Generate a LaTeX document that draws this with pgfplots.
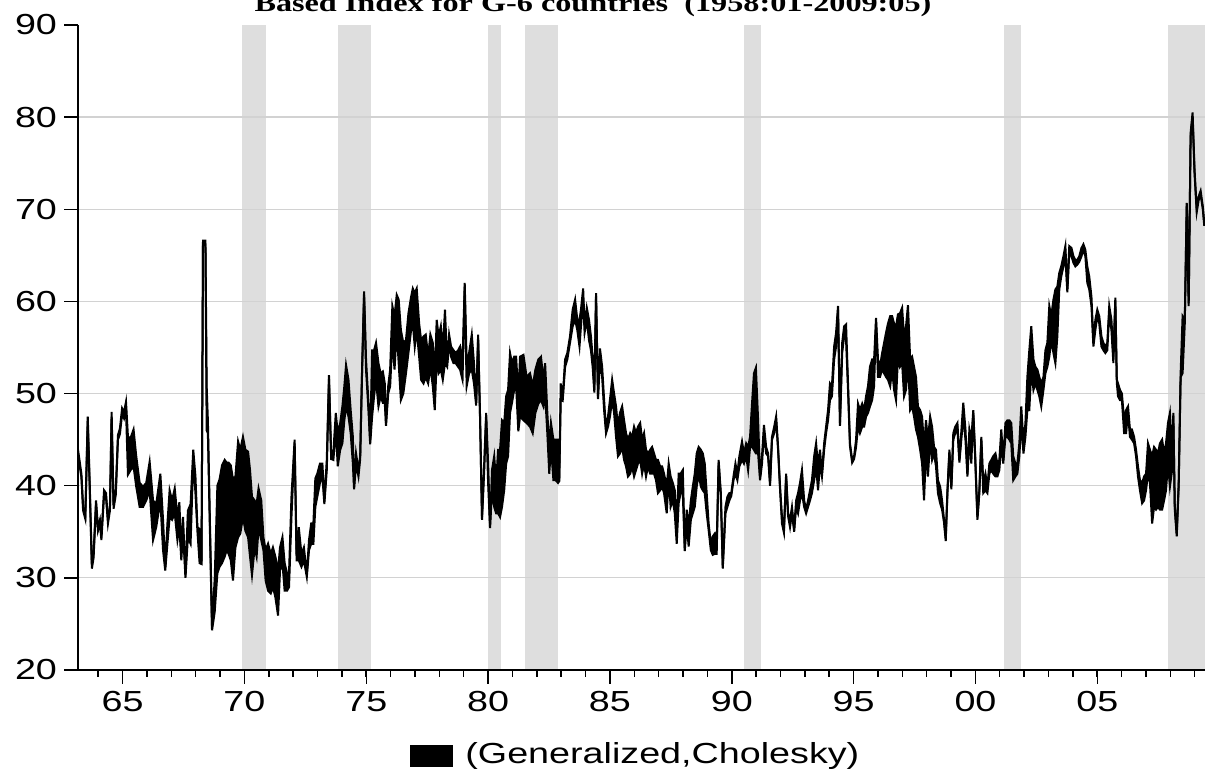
\documentclass[border=0pt]{standalone}
\usepackage{fontspec}
\setmainfont{Liberation Sans}[FakeStretch=1.3]
\newfontfamily\titlefont{Liberation Serif}[FakeStretch=1.3]
\usepackage{pgfplots}
\pgfplotsset{compat=1.18}
\usepgfplotslibrary{fillbetween}
\definecolor{recess}{HTML}{DEDEDE}
\definecolor{gridc}{HTML}{D2D2D2}

% monthly-ish readings: u = upper edge, l = lower edge of the band
\pgfplotstableread{
x u l
1963.17 43.9 43.4
1963.31 41.3 40.9
1963.38 37.7 37.3
1963.47 36.8 36.4
1963.57 47.5 47.0
1963.65 40.3 39.8
1963.74 31.4 31.0
1963.81 32.6 32.2
1963.91 38.4 38.0
1963.99 35.5 35.1
1964.07 36.3 35.9
1964.13 34.5 34.1
1964.24 39.5 39.0
1964.32 39.2 38.7
1964.40 36.3 35.9
1964.48 37.7 37.3
1964.55 48.0 47.5
1964.63 37.9 37.5
1964.72 39.5 39.0
1964.81 45.5 45.0
1964.89 46.2 45.6
1964.98 48.4 47.8
1965.06 48.0 47.3
1965.14 49.1 48.3
1965.22 45.3 41.2
1965.33 45.2 41.7
1965.45 46.1 42.1
1965.56 43.2 39.9
1965.70 40.3 37.7
1965.84 39.9 37.7
1965.97 40.3 38.4
1966.11 42.6 39.5
1966.25 38.4 34.1
1966.38 38.0 35.5
1966.55 41.3 38.4
1966.66 36.3 33.0
1966.75 31.2 30.8
1966.84 35.9 33.7
1966.93 39.5 36.6
1967.03 38.4 36.3
1967.14 39.7 37.0
1967.25 36.6 34.1
1967.33 38.2 35.5
1967.41 32.6 31.9
1967.48 36.6 35.1
1967.58 30.3 30.0
1967.68 37.3 34.4
1967.79 38.0 33.7
1967.90 43.9 42.8
1967.99 41.0 39.2
1968.07 35.5 35.1
1968.16 35.3 31.6
1968.24 31.8 31.5
1968.30 66.6 66.2
1968.40 66.6 66.2
1968.45 50.8 46.0
1968.50 47.1 45.7
1968.67 24.7 24.3
1968.78 29.9 26.3
1968.89 40.0 30.5
1968.98 40.7 31.2
1969.08 42.2 31.6
1969.19 42.8 32.3
1969.27 42.5 33.0
1969.35 42.5 32.6
1969.44 42.2 31.9
1969.53 40.7 29.7
1969.63 41.0 33.3
1969.74 44.8 34.4
1969.83 43.9 34.8
1969.94 45.3 36.6
1970.04 43.9 35.1
1970.15 43.7 34.4
1970.23 41.7 32.3
1970.31 38.8 30.3
1970.42 38.4 33.3
1970.50 38.0 32.3
1970.58 39.7 35.5
1970.69 38.4 34.1
1970.78 34.4 33.0
1970.87 33.0 29.7
1970.97 33.7 28.6
1971.08 32.6 28.3
1971.17 33.3 29.0
1971.27 32.3 27.9
1971.38 30.8 25.9
1971.46 33.3 30.8
1971.56 34.4 31.6
1971.65 31.6 28.6
1971.75 30.5 28.6
1971.83 30.5 29.0
1971.93 38.8 36.6
1972.06 45.0 44.6
1972.14 32.6 31.9
1972.23 35.5 31.9
1972.34 32.6 31.2
1972.44 33.3 31.9
1972.56 30.4 30.1
1972.65 34.1 33.0
1972.74 35.9 33.7
1972.83 35.9 33.7
1972.91 40.8 37.7
1972.99 41.3 38.8
1973.10 42.4 40.3
1973.20 42.4 41.0
1973.28 38.3 38.0
1973.38 42.8 41.7
1973.47 52.0 51.6
1973.56 43.2 42.9
1973.65 43.7 42.8
1973.75 47.9 46.1
1973.83 45.7 42.1
1973.93 46.8 43.9
1974.02 48.6 44.6
1974.10 50.8 47.1
1974.17 53.1 48.6
1974.27 51.5 47.5
1974.36 48.2 45.7
1974.45 45.3 42.4
1974.50 39.9 39.6
1974.58 43.5 42.4
1974.68 41.7 41.0
1974.75 43.2 42.9
1974.83 52.9 52.5
1974.91 61.1 60.7
1974.99 53.7 52.6
1975.09 49.0 48.2
1975.16 44.8 44.5
1975.24 54.7 47.5
1975.32 54.7 49.7
1975.40 55.5 51.5
1975.50 53.3 48.6
1975.59 52.2 49.7
1975.68 52.4 49.0
1975.76 51.1 49.0
1975.81 46.8 46.5
1975.90 50.8 50.0
1975.98 52.6 50.8
1976.07 59.5 55.8
1976.16 58.4 52.6
1976.25 60.7 56.9
1976.33 60.2 53.3
1976.42 56.9 49.3
1976.52 55.5 50.0
1976.63 55.8 52.2
1976.73 58.7 54.4
1976.84 60.5 56.9
1976.91 61.4 57.6
1976.99 60.9 55.1
1977.07 61.4 56.9
1977.17 57.6 54.0
1977.25 55.8 51.5
1977.35 56.2 51.1
1977.44 56.4 51.8
1977.54 54.0 51.1
1977.63 56.4 52.9
1977.73 55.5 50.8
1977.81 51.8 48.2
1977.89 58.0 53.7
1977.97 56.2 52.2
1978.06 57.3 52.6
1978.14 54.7 51.5
1978.23 59.1 53.3
1978.32 53.3 52.9
1978.40 56.4 55.5
1978.48 55.1 54.0
1978.58 54.7 53.3
1978.67 54.4 53.3
1978.77 54.7 52.9
1978.85 55.1 52.6
1978.95 53.3 51.5
1979.04 62.0 61.6
1979.12 53.3 50.8
1979.22 54.4 52.2
1979.33 56.4 52.6
1979.42 53.3 51.1
1979.51 49.0 48.7
1979.59 56.4 56.0
1979.67 47.5 47.2
1979.75 36.6 36.3
1979.84 42.4 41.7
1979.92 47.9 47.5
1980.00 42.4 40.3
1980.08 35.7 35.4
1980.16 41.7 39.5
1980.25 43.2 37.7
1980.33 40.3 37.0
1980.41 43.9 37.0
1980.49 43.9 36.6
1980.57 47.1 37.7
1980.66 46.8 39.5
1980.74 49.7 42.4
1980.82 50.4 43.2
1980.90 54.4 47.9
1980.98 53.3 49.0
1981.07 54.0 50.4
1981.15 54.0 50.8
1981.24 49.7 45.9
1981.31 54.0 47.5
1981.45 54.2 47.1
1981.58 51.8 46.8
1981.72 52.2 46.4
1981.83 50.8 45.7
1981.94 52.6 47.9
1982.06 53.7 48.9
1982.17 54.0 49.3
1982.27 51.5 48.6
1982.34 53.3 50.0
1982.43 47.9 45.7
1982.51 44.2 41.3
1982.58 46.8 44.2
1982.68 45.0 40.6
1982.77 45.0 40.6
1982.87 45.0 40.3
1982.92 40.8 40.5
1982.98 51.1 49.3
1983.06 49.5 49.2
1983.16 53.7 52.9
1983.25 54.4 53.7
1983.36 56.2 55.5
1983.47 59.1 57.3
1983.57 60.2 58.0
1983.66 58.0 56.9
1983.75 58.0 55.1
1983.81 59.1 57.3
1983.90 61.4 60.2
1983.96 57.3 56.6
1984.05 59.3 58.0
1984.14 58.0 55.8
1984.22 56.2 54.7
1984.29 54.0 52.9
1984.36 50.4 50.1
1984.43 60.9 60.6
1984.51 49.7 49.4
1984.59 54.9 53.7
1984.68 52.9 51.8
1984.76 49.3 48.2
1984.84 46.1 45.7
1984.92 47.5 46.4
1985.00 49.3 47.5
1985.09 51.5 49.3
1985.17 50.0 47.9
1985.25 48.6 45.3
1985.33 46.4 43.2
1985.41 47.9 43.5
1985.50 48.6 44.2
1985.58 47.1 42.8
1985.66 45.7 42.1
1985.74 45.0 41.0
1985.83 45.7 41.3
1985.91 45.3 42.1
1985.99 46.4 41.0
1986.07 45.7 41.7
1986.15 46.4 42.4
1986.24 46.8 42.8
1986.32 45.0 41.3
1986.40 45.7 42.4
1986.48 43.9 41.0
1986.56 43.5 42.1
1986.65 43.9 41.3
1986.73 44.2 41.3
1986.81 43.5 41.3
1986.89 42.8 40.6
1986.97 42.8 39.2
1987.06 42.1 39.5
1987.14 42.1 39.9
1987.22 41.3 39.2
1987.33 39.9 37.0
1987.41 42.4 41.0
1987.49 41.0 37.7
1987.58 40.3 38.4
1987.66 39.5 37.0
1987.74 35.5 33.7
1987.82 41.3 38.1
1987.90 41.3 39.2
1987.99 41.7 39.2
1988.07 33.2 32.9
1988.15 37.4 35.9
1988.23 35.5 33.4
1988.32 38.4 36.3
1988.40 39.9 37.0
1988.48 41.3 37.7
1988.56 43.5 39.9
1988.64 44.2 41.3
1988.73 43.9 39.9
1988.81 43.5 39.5
1988.89 42.4 39.2
1988.97 39.2 37.0
1989.05 35.9 35.2
1989.14 33.7 33.0
1989.22 34.5 32.5
1989.30 34.8 32.6
1989.38 33.4 32.6
1989.46 42.8 42.5
1989.55 39.2 38.9
1989.63 31.3 31.0
1989.74 37.7 37.0
1989.82 38.8 37.7
1989.90 39.2 38.4
1989.98 39.2 38.9
1990.07 41.0 40.6
1990.15 42.4 41.3
1990.23 41.3 40.6
1990.31 43.2 42.1
1990.42 44.8 42.8
1990.50 43.5 42.4
1990.59 44.6 43.2
1990.67 44.2 41.7
1990.75 45.3 44.2
1990.83 48.9 44.2
1990.91 52.2 43.9
1990.99 52.8 43.5
1991.08 47.1 43.5
1991.16 41.0 40.6
1991.24 43.2 42.4
1991.32 46.6 45.7
1991.41 44.2 43.5
1991.49 43.5 43.2
1991.57 40.3 40.0
1991.65 45.3 45.0
1991.74 46.4 45.7
1991.82 47.5 47.1
1991.90 44.2 43.9
1991.98 39.9 39.6
1992.06 36.6 35.9
1992.14 35.2 34.9
1992.23 41.3 41.0
1992.31 37.0 36.7
1992.39 36.3 35.5
1992.47 37.7 37.0
1992.56 35.3 35.0
1992.64 38.4 37.7
1992.72 39.2 37.0
1992.80 40.3 38.4
1992.88 41.7 39.2
1992.97 38.4 37.7
1993.05 37.4 37.0
1993.13 38.4 37.7
1993.21 39.5 38.4
1993.29 40.6 39.2
1993.38 43.2 40.6
1993.46 44.6 42.1
1993.54 42.1 39.5
1993.62 43.9 42.4
1993.70 41.3 41.0
1993.79 44.6 43.9
1993.87 46.4 45.7
1993.95 48.2 47.1
1994.03 51.1 49.3
1994.11 50.8 49.7
1994.20 55.1 53.7
1994.28 56.6 55.1
1994.36 59.5 59.1
1994.44 46.8 46.5
1994.53 55.5 54.4
1994.61 57.3 56.2
1994.69 57.5 55.8
1994.77 51.1 50.4
1994.85 44.6 44.3
1994.94 42.8 42.5
1995.02 43.2 42.9
1995.10 45.0 44.2
1995.18 48.9 46.4
1995.26 48.2 45.7
1995.35 48.9 46.4
1995.43 48.2 46.4
1995.51 49.7 47.5
1995.59 50.8 47.9
1995.67 52.9 48.6
1995.76 53.7 49.3
1995.84 53.7 50.8
1995.92 58.2 57.8
1996.00 53.7 51.8
1996.08 52.9 51.8
1996.17 54.4 52.6
1996.25 55.5 52.2
1996.33 56.6 51.8
1996.41 57.6 51.5
1996.50 58.4 50.8
1996.58 58.4 52.6
1996.66 57.6 50.4
1996.74 57.3 49.3
1996.82 58.6 54.0
1996.90 58.7 52.9
1996.99 59.3 53.3
1997.07 56.2 49.7
1997.15 57.3 50.4
1997.23 59.6 53.7
1997.32 53.7 48.2
1997.40 54.0 48.6
1997.48 52.9 47.5
1997.56 51.8 46.1
1997.64 48.6 45.3
1997.73 48.2 43.9
1997.81 47.5 42.4
1997.89 44.2 38.4
1997.97 47.1 43.9
1998.05 45.0 41.0
1998.14 47.5 45.0
1998.22 46.4 42.8
1998.30 44.2 43.5
1998.38 43.9 42.1
1998.46 40.6 39.2
1998.55 39.9 38.1
1998.63 38.4 37.4
1998.71 36.3 36.0
1998.78 34.3 34.0
1998.85 39.5 39.2
1998.93 43.9 43.6
1999.01 39.9 39.6
1999.09 45.7 45.0
1999.17 46.4 45.7
1999.26 46.8 46.1
1999.34 42.8 42.5
1999.50 49.0 47.5
1999.59 46.1 45.0
1999.67 41.3 41.0
1999.75 46.1 45.3
1999.83 45.0 42.4
1999.91 48.2 47.9
1999.99 43.2 42.9
2000.08 36.6 36.3
2000.16 39.5 39.2
2000.24 45.3 45.0
2000.32 40.3 39.2
2000.41 41.3 39.5
2000.49 39.9 39.2
2000.57 42.4 41.3
2000.65 42.8 41.7
2000.73 43.2 41.3
2000.82 43.5 41.0
2000.90 42.4 41.0
2000.98 42.8 41.7
2001.06 46.1 44.6
2001.14 42.8 42.4
2001.23 46.8 45.3
2001.31 47.1 45.3
2001.39 47.1 45.0
2001.47 46.8 44.6
2001.55 43.2 40.6
2001.64 42.4 41.0
2001.72 42.4 41.3
2001.80 44.6 43.2
2001.88 48.6 46.8
2001.97 44.6 43.5
2002.05 46.8 45.3
2002.13 51.8 48.2
2002.21 54.7 48.2
2002.29 57.3 52.6
2002.38 53.7 50.4
2002.46 52.9 51.1
2002.54 52.6 50.4
2002.62 51.8 49.7
2002.70 51.1 48.6
2002.79 51.8 50.4
2002.87 54.7 52.2
2002.95 55.5 52.9
2003.03 59.5 54.0
2003.11 58.4 55.8
2003.20 60.2 54.4
2003.28 61.3 53.3
2003.36 61.6 56.2
2003.44 63.1 61.3
2003.52 63.8 62.7
2003.61 64.9 63.8
2003.69 66.0 64.9
2003.77 61.3 61.0
2003.85 66.0 65.3
2003.94 65.8 64.9
2004.02 64.9 64.2
2004.10 64.5 63.8
2004.18 64.5 64.0
2004.26 64.9 64.3
2004.35 65.8 64.9
2004.43 66.2 65.6
2004.51 65.6 64.9
2004.59 63.8 62.0
2004.67 62.7 61.3
2004.76 60.5 59.5
2004.84 55.5 55.1
2004.92 58.0 56.9
2005.00 59.1 58.4
2005.08 58.4 57.6
2005.17 56.2 55.1
2005.25 55.5 54.7
2005.33 55.1 54.4
2005.41 55.5 54.7
2005.49 59.5 58.7
2005.58 58.0 56.9
2005.66 54.0 53.3
2005.74 60.4 60.1
2005.80 51.5 51.2
2005.85 51.1 49.7
2005.93 50.4 49.3
2006.01 50.0 49.3
2006.10 47.1 45.7
2006.18 48.2 45.7
2006.26 48.6 47.9
2006.34 46.1 45.3
2006.42 46.1 45.0
2006.51 45.3 44.6
2006.59 43.9 43.2
2006.67 42.1 41.0
2006.75 40.6 39.5
2006.84 40.3 38.1
2006.92 41.0 38.4
2007.00 41.3 39.5
2007.08 44.6 41.3
2007.16 43.9 40.3
2007.25 43.2 35.9
2007.33 44.2 37.7
2007.41 43.9 37.4
2007.49 43.5 37.7
2007.57 44.6 37.4
2007.66 45.0 37.4
2007.74 43.5 38.4
2007.82 44.6 39.5
2007.90 46.8 42.4
2007.98 47.9 39.9
2008.07 43.2 41.7
2008.12 47.9 47.6
2008.18 37.7 37.4
2008.26 34.8 34.5
2008.34 40.3 40.0
2008.42 52.2 51.8
2008.50 58.4 52.2
2008.59 58.0 57.6
2008.67 70.7 70.3
2008.75 59.8 59.5
2008.83 78.3 77.9
2008.91 80.5 80.1
2008.99 74.3 73.9
2009.08 70.0 69.7
2009.16 71.4 71.0
2009.24 72.0 71.6
2009.33 70.3 70.0
2009.39 68.5 68.2
}\gsixdata

\begin{document}
\begin{tikzpicture}
\begin{axis}[
  set layers,
  scale only axis, width=563.5pt, height=322.5pt,
  xmin=1963.17, xmax=2009.42, ymin=20, ymax=90,
  axis x line*=bottom, axis y line*=left,
  axis line style={-, line width=1pt},
  tick align=outside,
  xtick={1965,1970,...,2005},
  xticklabels={65,70,75,80,85,90,95,00,05},
  minor xtick={1964,...,2009},
  ytick={20,30,...,90},
  extra y ticks={30,40,...,80},
  extra y tick labels={},
  extra y tick style={grid=major, major tick length=0pt},
  major grid style={gridc, line width=0.65pt},
  major tick length=7pt, minor tick length=3.5pt,
  tick style={black, line width=0.75pt},
  tick label style={font=\fontsize{14.5}{17}\selectfont},
  /pgf/number format/assume math mode=true,
]
% recession bands
\addplot[on layer=axis background, fill=recess, draw=none] coordinates {(1969.92,20) (1969.92,90) (1970.875,90) (1970.875,20)} -- cycle;
\addplot[on layer=axis background, fill=recess, draw=none] coordinates {(1973.83,20) (1973.83,90) (1975.21,90) (1975.21,20)} -- cycle;
\addplot[on layer=axis background, fill=recess, draw=none] coordinates {(1980.0,20) (1980.0,90) (1980.54,90) (1980.54,20)} -- cycle;
\addplot[on layer=axis background, fill=recess, draw=none] coordinates {(1981.5,20) (1981.5,90) (1982.875,90) (1982.875,20)} -- cycle;
\addplot[on layer=axis background, fill=recess, draw=none] coordinates {(1990.5,20) (1990.5,90) (1991.2,90) (1991.2,20)} -- cycle;
\addplot[on layer=axis background, fill=recess, draw=none] coordinates {(2001.17,20) (2001.17,90) (2001.875,90) (2001.875,20)} -- cycle;
\addplot[on layer=axis background, fill=recess, draw=none] coordinates {(2007.92,20) (2007.92,90) (2009.5,90) (2009.5,20)} -- cycle;

\addplot[name path=U, black, line width=1pt] table[x=x, y=u] {\gsixdata};
\addplot[name path=L, black, line width=1pt] table[x=x, y=l] {\gsixdata};
\addplot[black] fill between[of=U and L];

\coordinate (SW) at (rel axis cs:0,0);
\coordinate (NE) at (rel axis cs:1,1);
\end{axis}

\node[font=\titlefont\bfseries\fontsize{12.4}{14}\selectfont, anchor=base]
  at ([xshift=257.5pt, yshift=6.5pt]SW |- NE) {Based Index for G-6 countries\ \ (1958:01-2009:05)};

% legend
\fill[black] ([xshift=166pt, yshift=-37.5pt]SW) rectangle ([xshift=187.5pt, yshift=-48.5pt]SW);
\node[anchor=west, inner sep=0pt, font=\fontsize{14.5}{17}\selectfont]
  at ([xshift=193.5pt, yshift=-43pt]SW) {(Generalized,Cholesky)};

\pgfresetboundingbox
\path[use as bounding box] ([xshift=-39pt, yshift=-52pt]SW) rectangle ([yshift=12.5pt]NE);
\end{tikzpicture}
\end{document}
